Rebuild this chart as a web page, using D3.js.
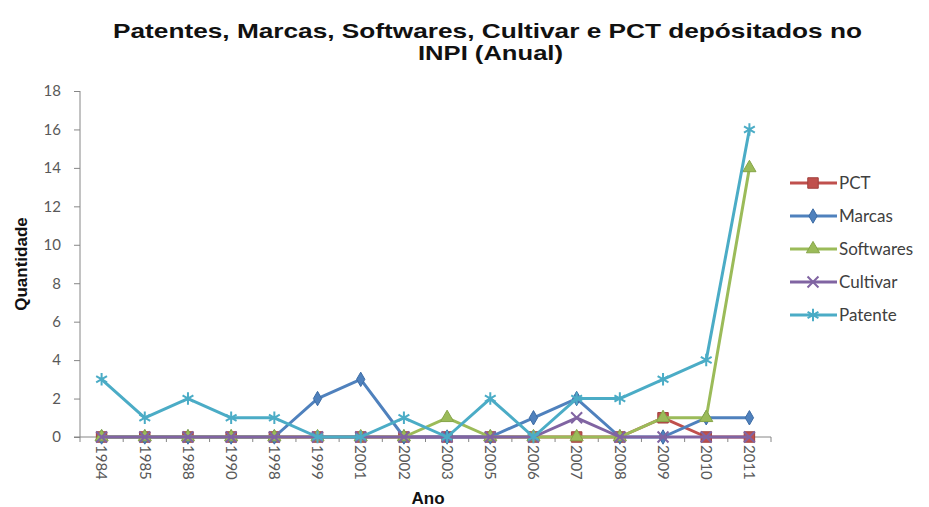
<!DOCTYPE html>
<html>
<head>
<meta charset="utf-8">
<script src="https://cdn.jsdelivr.net/npm/d3@7.9.0/dist/d3.min.js"></script>
<style>
  body { margin: 0; background: #fff; }
  svg { display: block; }
</style>
</head>
<body>
<svg id="chart" width="929" height="507"></svg>
<script>
const anos = ['1984', '1985', '1988', '1990', '1998', '1999', '2001', '2002',
  '2003', '2005', '2006', '2007', '2008', '2009', '2010', '2011'];

const pct       = [0, 0, 0, 0, 0, 0, 0, 0, 0, 0, 0, 0, 0, 1, 0, 0];
const marcas    = [0, 0, 0, 0, 0, 2, 3, 0, 0, 0, 1, 2, 0, 0, 1, 1];
const softwares = [0, 0, 0, 0, 0, 0, 0, 0, 1, 0, 0, 0, 0, 1, 1, 14];
const cultivar  = [0, 0, 0, 0, 0, 0, 0, 0, 0, 0, 0, 1, 0, 0, 0, 0];
const patente   = [3, 1, 2, 1, 1, 0, 0, 1, 0, 2, 0, 2, 2, 3, 4, 16];

const yTicks = [0, 2, 4, 6, 8, 10, 12, 14, 16, 18];

const series = [
  { name: 'PCT', values: pct, color: '#C0504D', stroke: '#a0403d', symbol: d3.symbolSquare, size: 110, filled: true },
  { name: 'Marcas', values: marcas, color: '#4F81BD', stroke: '#3d6ca5', symbol: d3.symbolDiamond, size: 60, filled: true },
  { name: 'Softwares', values: softwares, color: '#9BBB59', stroke: '#86a548', symbol: d3.symbolTriangle, size: 75, filled: true },
  { name: 'Cultivar', values: cultivar, color: '#8064A2', stroke: '#8064A2', symbol: d3.symbolTimes, size: 80, filled: false },
  { name: 'Patente', values: patente, color: '#4BACC6', stroke: '#4BACC6', symbol: d3.symbolAsterisk, size: 110, filled: false }
];

const svg = d3.select('#chart');
const plotL = 80, plotR = 771, plotT = 91, plotB = 437;

const x = d3.scaleBand().domain(anos).range([plotL, plotR]).padding(0);
const y = d3.scaleLinear().domain([0, 18]).range([plotB, plotT]);
const cx = (d) => x(d) + x.bandwidth() / 2;

// title (the source image is stretched sideways, so fit widths)
svg.append('text')
  .attr('x', 113).attr('y', 38)
  .attr('textLength', 749).attr('lengthAdjust', 'spacingAndGlyphs')
  .style('font', 'bold 21px "Liberation Sans", Arial, sans-serif')
  .attr('fill', '#111')
  .text('Patentes, Marcas, Softwares, Cultivar e PCT depósitados no');
svg.append('text')
  .attr('x', 418).attr('y', 60)
  .attr('textLength', 145).attr('lengthAdjust', 'spacingAndGlyphs')
  .style('font', 'bold 21px "Liberation Sans", Arial, sans-serif')
  .attr('fill', '#111')
  .text('INPI (Anual)');

// y axis
const yAxis = svg.append('g')
  .attr('transform', `translate(${plotL},0)`)
  .call(d3.axisLeft(y).tickValues(yTicks).tickSize(6).tickPadding(13));
yAxis.select('.domain').attr('stroke', '#868686').attr('d', `M0,${plotT}V${plotB + 5}`);
yAxis.selectAll('.tick line').attr('stroke', '#868686');
yAxis.selectAll('.tick text')
  .style('font', '15px Lato, "Open Sans", sans-serif')
  .attr('fill', '#595959');

// x axis
const xAxis = svg.append('g')
  .attr('transform', `translate(0,${plotB})`)
  .call(d3.axisBottom(x).tickSize(0).tickPadding(0));
xAxis.select('.domain').attr('stroke', '#868686').attr('d', `M${plotL - 6},0H${plotR}`);
xAxis.selectAll('.tick text')
  .attr('transform', 'rotate(90)')
  .attr('x', 8).attr('y', 0).attr('dy', '0.35em')
  .attr('text-anchor', 'start')
  .style('font', '15px Lato, "Open Sans", sans-serif')
  .attr('fill', '#595959');
xAxis.selectAll('.sep')
  .data(anos)
  .join('line')
  .attr('class', 'sep')
  .attr('x1', (d) => x(d) + x.bandwidth())
  .attr('x2', (d) => x(d) + x.bandwidth())
  .attr('y1', 0).attr('y2', 5)
  .attr('stroke', '#868686');

// axis titles
svg.append('text')
  .attr('transform', `translate(27,264) rotate(-90)`)
  .attr('text-anchor', 'middle')
  .style('font', 'bold 17px "Liberation Sans", Arial, sans-serif')
  .attr('fill', '#111')
  .text('Quantidade');
svg.append('text')
  .attr('x', 428).attr('y', 504)
  .attr('text-anchor', 'middle')
  .style('font', 'bold 17px "Liberation Sans", Arial, sans-serif')
  .attr('fill', '#111')
  .text('Ano');

// lines + markers
const line = d3.line().x((d, i) => cx(anos[i])).y((d) => y(d));

series.forEach((s) => {
  const g = svg.append('g');
  g.append('path')
    .attr('d', line(s.values))
    .attr('fill', 'none')
    .attr('stroke', s.color)
    .attr('stroke-width', 3)
    .attr('stroke-linejoin', 'round');
  g.selectAll('path.mk')
    .data(s.values)
    .join('path')
    .attr('class', 'mk')
    .attr('transform', (d, i) => `translate(${cx(anos[i])},${y(d)})`)
    .attr('d', d3.symbol().type(s.symbol).size(s.size))
    .attr('fill', s.filled ? s.color : 'none')
    .attr('stroke', s.stroke)
    .attr('stroke-width', s.filled ? 1 : 2);
});

// legend
const legend = svg.append('g');
series.forEach((s, i) => {
  const ly = 183 + i * 33;
  legend.append('line')
    .attr('x1', 790).attr('x2', 837).attr('y1', ly).attr('y2', ly)
    .attr('stroke', s.color).attr('stroke-width', 3);
  legend.append('path')
    .attr('transform', `translate(813,${ly})`)
    .attr('d', d3.symbol().type(s.symbol).size(s.size))
    .attr('fill', s.filled ? s.color : 'none')
    .attr('stroke', s.stroke)
    .attr('stroke-width', s.filled ? 1 : 2);
  legend.append('text')
    .attr('x', 839).attr('y', ly).attr('dy', '0.35em')
    .style('font', '17px Lato, "Open Sans", sans-serif')
    .attr('fill', '#404040')
    .text(s.name);
});
</script>
</body>
</html>
